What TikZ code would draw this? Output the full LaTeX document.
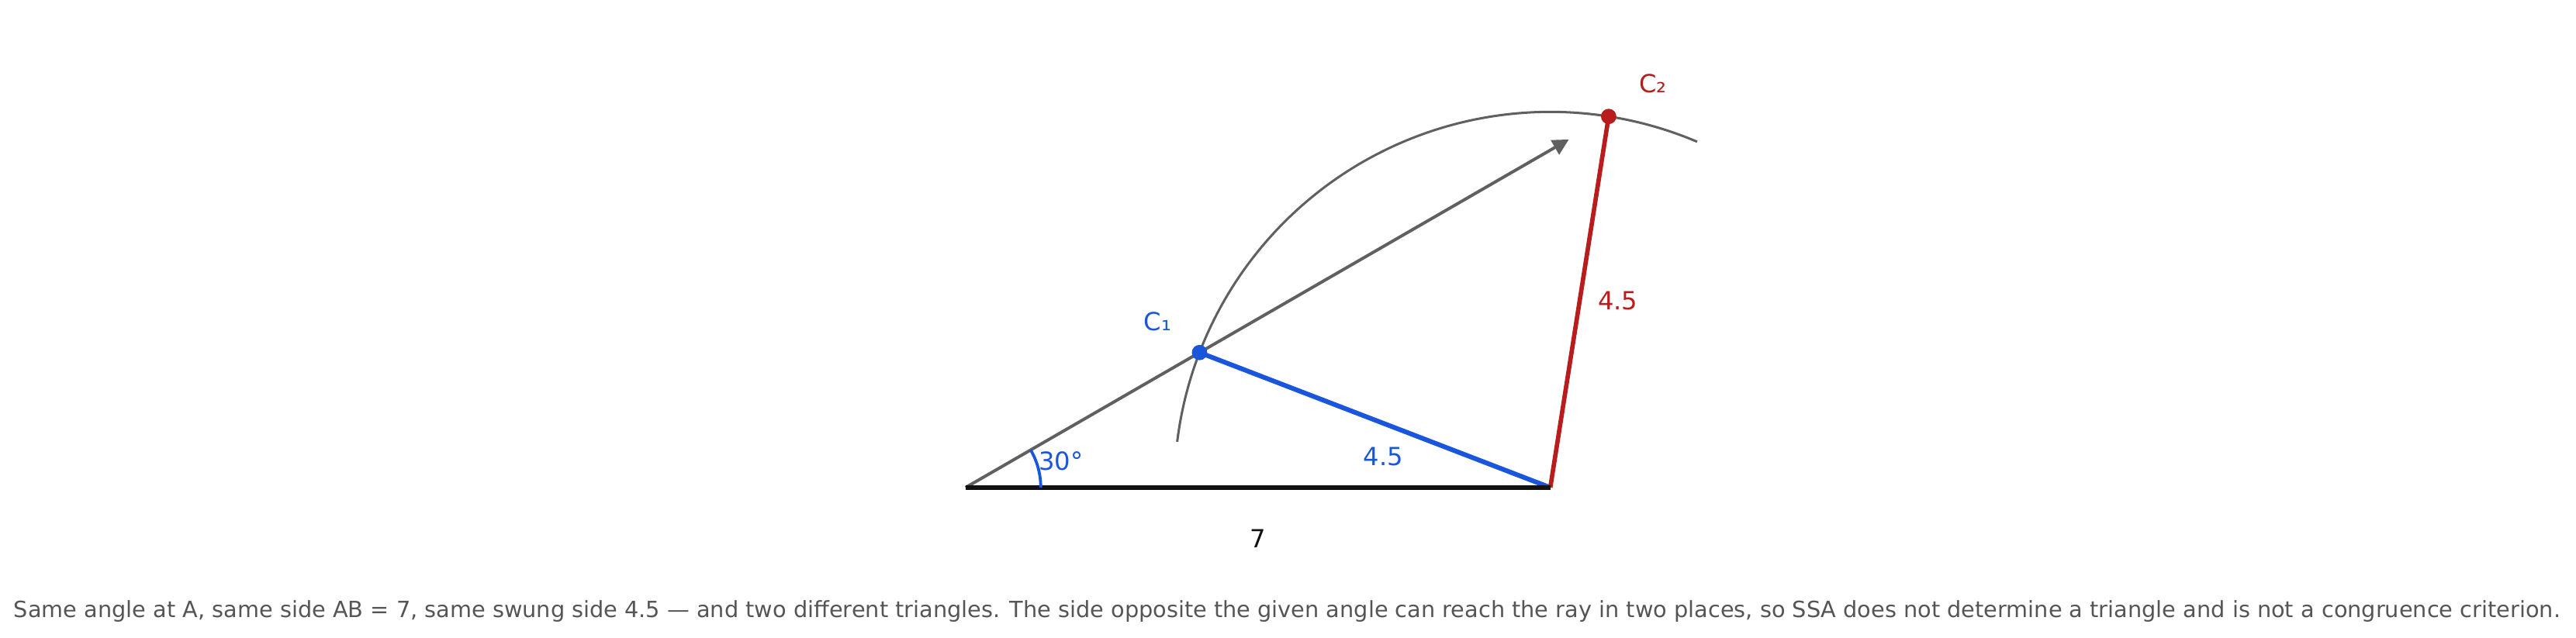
\documentclass[tikz,border=0pt]{standalone}
\usepackage{fontspec}
\setmainfont{DejaVu Sans}
\usetikzlibrary{calc}
\usetikzlibrary{arrows.meta}
\definecolor{rayGrey}{HTML}{606060}
\definecolor{solBlue}{HTML}{1A56DB}
\definecolor{solRed}{HTML}{B91C1C}
\definecolor{capGrey}{HTML}{555555}
\definecolor{baseBlack}{HTML}{111111}

\begin{document}
\begin{tikzpicture}[lbl/.style={font=\fontsize{8.5}{10}\selectfont}]
            \useasboundingbox (-11.56,-1.80) rectangle (19.28,5.84);
            \coordinate (A) at (0,0);
            \coordinate (B) at (7,0);
            \coordinate (C1) at (30:3.234);
            \coordinate (C2) at (30:8.890);
            \coordinate (R) at (30:8.34);
            \draw[rayGrey, line width=1.05pt, -{Triangle[length=5.5pt,width=5.5pt]}] (A) -- (R);
            \draw[rayGrey, line width=0.8pt] ($(B)+(173:4.5)$) arc (173:67:4.5);
            \draw[solBlue, line width=1.6pt] (C1) -- (B);
            \draw[solRed, line width=1.5pt] (B) -- (C2);
            \draw[baseBlack, line width=1.75pt] (A) -- (B);
            \draw[solBlue, line width=1pt] (0.9,0) arc (0:30:0.9);

            \fill[solBlue] (C1) circle (0.092);
            \fill[solRed] (C2) circle (0.092);

            \node[lbl, solBlue] (c1lbl) at (2.30,1.99) {C₁};
            \node[lbl, solRed] (c2lbl) at (8.23,4.84) {C₂};
            \node[lbl, solBlue] (anglbl) at (1.14,0.32) {30°};
            \node[lbl, solBlue] (bclbl) at (5.0,0.37) {4.5};
            \node[lbl, solRed] (bc2lbl) at (7.81,2.24) {4.5};
            \node[lbl, baseBlack] (ablbl) at (3.5,-0.61) {7};
            \node[font=\fontsize{7.6}{9}\selectfont, capGrey] (caption) at (3.85,-1.48) {Same angle at A, same side AB = 7, same swung side 4.5 — and two different triangles. The side opposite the given angle can reach the ray in two places, so SSA does not determine a triangle and is not a congruence criterion.};
        \end{tikzpicture}
\end{document}
